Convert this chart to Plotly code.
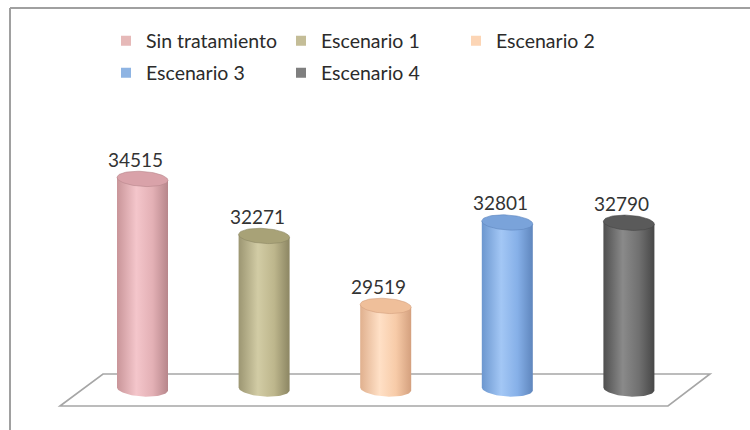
import numpy as np
import plotly.graph_objects as go

# ---- data ----
categories = ["Sin tratamiento", "Escenario 1", "Escenario 2", "Escenario 3", "Escenario 4"]
values = [34515, 32271, 29519, 32801, 32790]
label_texts = [str(v) for v in values]

legend_colors = ["#E6B9B8", "#C4BD97", "#FCD5B5", "#8EB4E3", "#7F7F7F"]
body_scales = [
    ["#c99599", "#f4c6cb", "#e3b0b5", "#b7868b"],
    ["#9c9672", "#d2cca5", "#bdb68c", "#8c8663"],
    ["#e0b08e", "#ffe0c6", "#f7cba8", "#d4a07e"],
    ["#6c97cf", "#a3c7f5", "#86b0e8", "#5f86bd"],
    ["#4f4f4f", "#8a8a8a", "#707070", "#474747"],
]
top_colors = ["#d9a2a9", "#a8a277", "#efbf9a", "#7aa3da", "#5a5a5a"]

# ---- geometry / scale settings ----
W, H = 750, 430
AXIS_FLOOR = 26250          # value at the floor of the 3D plot
FLOOR_PX = 389              # pixel row of the floor
UPP = 39.34                 # data units per pixel (vertical)
X0_PX, XSTEP_PX = 142.5, 121.6
y_min = AXIS_FLOOR - (H - FLOOR_PX) * UPP
y_max = AXIS_FLOOR + FLOOR_PX * UPP
x_min = -X0_PX / XSTEP_PX
x_max = (W - X0_PX) / XSTEP_PX

hw = 25.5 / XSTEP_PX        # cylinder half width (x units)
eh = 7.5 * UPP              # ellipse half height (y units)
tilt = 1.5 * UPP            # slight perspective tilt

xs = list(range(len(categories)))

fig = go.Figure()

def ell(xc, yc, t):
    dx = hw * np.cos(t)
    return xc + dx, yc + eh * np.sin(t) - tilt * dx / hw

for i, (xc, v) in enumerate(zip(xs, values)):
    t = np.linspace(np.pi, 2 * np.pi, 40)
    bx, by = ell(xc, AXIS_FLOOR, t)
    px = list(bx) + [xc + hw, xc - hw, xc - hw]
    py = list(by) + [v - tilt, v + tilt, AXIS_FLOOR + tilt]
    sc = body_scales[i]
    fig.add_trace(go.Scatter(
        x=px, y=py, mode="lines", fill="toself", line=dict(width=0),
        fillgradient=dict(type="horizontal", start=xc - hw, stop=xc + hw,
                          colorscale=[[0, sc[0]], [0.38, sc[1]], [0.7, sc[2]], [1, sc[3]]]),
        showlegend=False, hoverinfo="skip"))
    t2 = np.linspace(0, 2 * np.pi, 80)
    tx, ty = ell(xc, v, t2)
    fig.add_trace(go.Scatter(
        x=list(tx), y=list(ty), mode="lines", fill="toself",
        line=dict(width=0.6, color=sc[3]), fillcolor=top_colors[i],
        showlegend=False, hoverinfo="skip"))

# legend-only traces
for i, name in enumerate(categories):
    fig.add_trace(go.Scatter(
        x=[None], y=[None], mode="markers", name=name,
        marker=dict(symbol="square", size=10, color=legend_colors[i]),
        legend="legend" if i < 3 else "legend2"))

# value labels
for xc, v, txt in zip(xs, values, label_texts):
    fig.add_annotation(x=xc, y=v, text=txt, showarrow=False, yanchor="bottom",
                       xshift=-7, yshift=6,
                       font=dict(family="Lato", size=19, color="#333333"))

# floor parallelogram
back = AXIS_FLOOR + 15 * UPP
front = AXIS_FLOOR - 17 * UPP
fl_bl, fl_tl = (60 - X0_PX) / XSTEP_PX, (103 - X0_PX) / XSTEP_PX
fl_tr, fl_br = (710 - X0_PX) / XSTEP_PX, (668 - X0_PX) / XSTEP_PX
fig.add_shape(type="path", xref="x", yref="y", layer="below",
              path=f"M {fl_bl},{front} L {fl_tl},{back} L {fl_tr},{back} L {fl_br},{front} Z",
              line=dict(color="#a6a6a6", width=1.6))

# outer frame (top and left)
fig.add_shape(type="line", xref="paper", yref="paper", x0=10 / W, x1=1.01, y0=1 - 8 / H, y1=1 - 8 / H,
              line=dict(color="#a0a0a0", width=2))
fig.add_shape(type="line", xref="paper", yref="paper", x0=10 / W, x1=10 / W, y0=-0.01, y1=1 - 8 / H,
              line=dict(color="#a0a0a0", width=2))

leg_common = dict(orientation="h", xanchor="left", yanchor="middle",
                  entrywidthmode="pixels", entrywidth=130, itemwidth=30,
                  font=dict(family="Lato", size=19.5, color="#2b2b2b"),
                  bgcolor="rgba(0,0,0,0)", itemclick=False, itemdoubleclick=False)
fig.update_layout(
    width=W, height=H, margin=dict(l=0, r=0, t=0, b=0),
    paper_bgcolor="white", plot_bgcolor="white",
    xaxis=dict(visible=False, range=[x_min, x_max], fixedrange=True),
    yaxis=dict(visible=False, range=[y_min, y_max], fixedrange=True),
    legend=dict(x=106 / W, y=1 - 41 / H, **leg_common),
    legend2=dict(x=106 / W, y=1 - 73 / H, **leg_common),
    showlegend=True,
)

fig.write_html("out.html")
